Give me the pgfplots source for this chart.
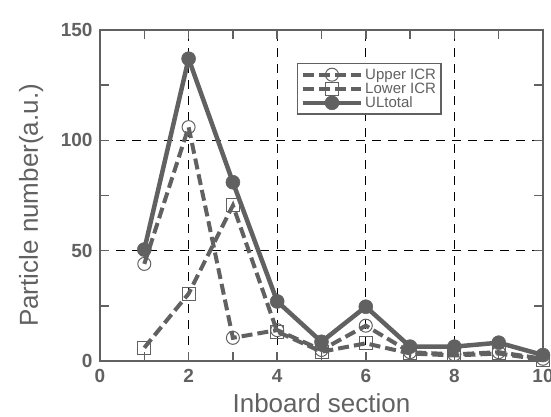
\documentclass[border=0pt]{standalone}
\usepackage{pgfplots}
\pgfplotsset{compat=1.18}
\usepackage{fontspec}
\setmainfont{Liberation Sans}
\definecolor{ln}{gray}{0.38}
\begin{document}
\begin{tikzpicture}
\begin{axis}[
  name=ax,
  scale only axis, width=443pt, height=331pt,
  xmin=0, xmax=10, ymin=0, ymax=150,
  xtick={0,2,...,10}, minor xtick={1,3,...,9},
  ytick={0,50,100,150}, minor ytick={25,75,125},
  tick align=inside, major tick length=9pt, minor tick length=9pt,
  tick style={ln, line width=1.5pt},
  axis line style={ln, line width=2.8pt},
  grid=major,
  major grid style={black, line width=0.8pt, dash pattern=on 9pt off 7pt},
  /pgf/number format/assume math mode=true,
  ticklabel style={font=\bfseries\fontsize{19}{19}\selectfont, text=ln},
  xticklabel style={yshift=-5pt},
  yticklabel style={xshift=-4pt},
  xlabel={Inboard section}, ylabel={Particle number(a.u.)},
  label style={font=\fontsize{26}{26}\selectfont, text=ln},
  xlabel style={at={(axis description cs:0.5,0)}, anchor=base, yshift=-51pt},
  ylabel style={at={(axis description cs:-0.14,0.47)}, anchor=base},
  legend style={at={(0.445,0.90)}, anchor=north west, draw=ln, line width=1.2pt,
    font=\fontsize{15}{15}\selectfont, text=ln, inner sep=3pt,
    row sep=-2pt, cells={anchor=west}},
  legend image code/.code={
    \draw[#1] (0pt,0pt) -- (58pt,0pt);
    \draw[#1, solid] plot coordinates {(29pt,0pt)};},
]
\addplot[ln, line width=4pt, dash pattern=on 11pt off 5pt,
  mark=o, mark size=6.5pt, mark options={solid, fill=white, draw=ln, line width=1pt}]
  coordinates {(1,44) (2,106) (3,10.5) (4,14) (5,5) (6,16) (7,4) (8,3) (9,4) (10,1)};
\addlegendentry{Upper ICR}
\addplot[ln, line width=4pt, dash pattern=on 11pt off 5pt,
  mark=square, mark size=6.5pt, mark options={solid, fill=white, draw=ln, line width=1pt}]
  coordinates {(1,6) (2,30.5) (3,70.5) (4,13.3) (5,4.2) (6,8) (7,3.4) (8,2.5) (9,3.4) (10,0.5)};
\addlegendentry{Lower ICR}
\addplot[ln, line width=4.5pt,
  mark=*, mark size=7pt, mark options={solid, fill=ln, draw=ln, line width=0.5pt}]
  coordinates {(1,50.5) (2,137) (3,81) (4,27) (5,8.7) (6,24.6) (7,6.5) (8,6.5) (9,8.3) (10,2.7)};
\addlegendentry{ULtotal}
\end{axis}
\pgfresetboundingbox
\path ([shift={(-100pt,-56pt)}]ax.south west) rectangle ([shift={(8pt,30pt)}]ax.north east);
\end{tikzpicture}
\end{document}
